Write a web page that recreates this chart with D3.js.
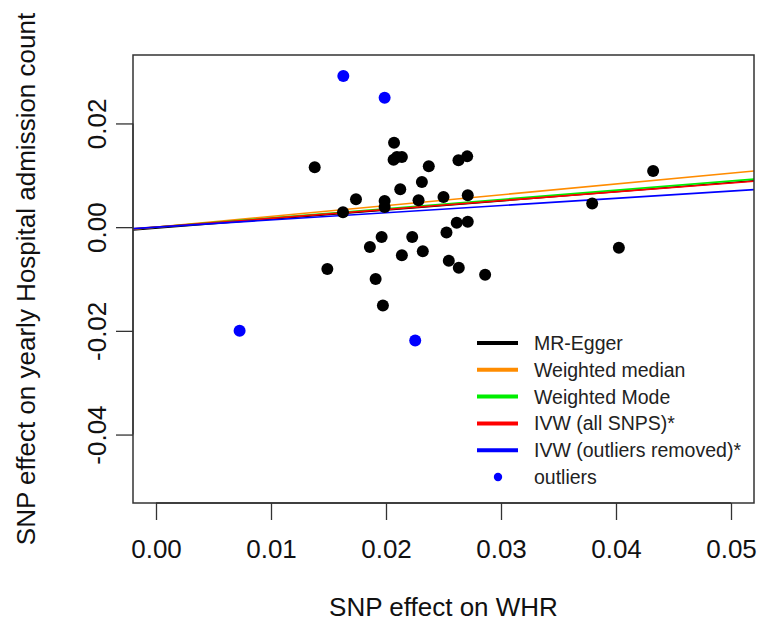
<!DOCTYPE html>
<html>
<head>
<meta charset="utf-8">
<script src="https://cdn.jsdelivr.net/npm/d3@7/dist/d3.min.js"></script>
<style>
  html, body { margin: 0; padding: 0; background: #fff; }
  svg { display: block; font-family: "Liberation Sans", Arial, Helvetica, sans-serif; }
</style>
</head>
<body>
<svg id="chart" width="761" height="629"></svg>
<script>
// ---- data ----
const snpX = [0.02070, 0.02095, 0.02066, 0.02138, 0.01380, 0.02372, 0.02630, 0.02706, 0.02312, 0.02124,
              0.01739, 0.01988, 0.01988, 0.02283, 0.02500, 0.02711, 0.01626, 0.02615, 0.02711, 0.02526,
              0.01962, 0.02228, 0.01860, 0.02320, 0.02138, 0.02546, 0.02633, 0.01490, 0.02862, 0.01910,
              0.01973, 0.04323, 0.03793, 0.04025];
const snpY = [0.01629, 0.01352, 0.01302, 0.01352, 0.01154, 0.01173, 0.01288, 0.01365, 0.00871, 0.00731,
              0.00538, 0.00506, 0.00390, 0.00519, 0.00583, 0.00615, 0.00288, 0.00083, 0.00102, -0.00102,
              -0.00192, -0.00192, -0.00385, -0.00467, -0.00544, -0.00648, -0.00783, -0.00808, -0.00917, -0.01000,
              -0.01513, 0.01083, 0.00456, -0.00398];
const outlierX = [0.01629, 0.01988, 0.00727, 0.02254];
const outlierY = [0.02917, 0.02494, -0.02000, -0.02187];

const methodNames = ["MR-Egger", "Weighted median", "Weighted Mode", "IVW (all SNPS)*", "IVW (outliers removed)*"];
const methodColors = ["#000000", "#FF8C00", "#00EE00", "#FF0000", "#0000FF"];
const methodIntercepts = [-0.0002, 0, 0, 0, 0];
const methodSlopes = [0.176, 0.208, 0.178, 0.170, 0.139];

const xTicks = [0.00, 0.01, 0.02, 0.03, 0.04, 0.05];
const yTicks = [-0.04, -0.02, 0.00, 0.02];
const xTitle = "SNP effect on WHR";
const yTitle = "SNP effect on yearly Hospital admission count";
const outlierLabel = "outliers";

// ---- layout ----
const svg = d3.select("#chart");
const box = { left: 133, right: 754, top: 55, bottom: 503 };
const xLim = [0, 0.05], yLim = [-0.05, 0.03];
const xPad = (xLim[1] - xLim[0]) * 0.04, yPad = (yLim[1] - yLim[0]) * 0.04;
const x = d3.scaleLinear().domain([xLim[0] - xPad, xLim[1] + xPad]).range([box.left, box.right]);
const y = d3.scaleLinear().domain([yLim[0] - yPad, yLim[1] + yPad]).range([box.bottom, box.top]);

const fontBase = 26;
const textCol = "#111";
const fmt = d => (Math.abs(d) < 1e-12 ? 0 : d).toFixed(2);

// clip path for plot region
svg.append("defs").append("clipPath").attr("id", "plotclip")
  .append("rect").attr("x", box.left).attr("y", box.top)
  .attr("width", box.right - box.left).attr("height", box.bottom - box.top);

// axes
const xAxis = d3.axisBottom(x).tickValues(xTicks).tickFormat(fmt).tickSize(17);
const gx = svg.append("g").attr("transform", `translate(0,${box.bottom})`).call(xAxis);
gx.select(".domain").attr("d", `M${x(xTicks[0])},0H${x(xTicks[xTicks.length-1])}`).attr("stroke", "#333").attr("stroke-width", 1.3);
gx.selectAll(".tick line").attr("stroke", "#333").attr("stroke-width", 1.3);
gx.selectAll(".tick text").attr("font-size", fontBase).attr("fill", textCol)
  .attr("font-family", "Liberation Sans, Arial, sans-serif").attr("dy", null).attr("y", 55);

const yAxis = d3.axisLeft(y).tickValues(yTicks).tickFormat(fmt).tickSize(17);
const gy = svg.append("g").attr("transform", `translate(${box.left},0)`).call(yAxis);
gy.select(".domain").attr("d", `M0,${y(yTicks[0])}V${y(yTicks[yTicks.length-1])}`).attr("stroke", "#333").attr("stroke-width", 1.3);
gy.selectAll(".tick line").attr("stroke", "#333").attr("stroke-width", 1.3);
gy.selectAll(".tick text").attr("font-size", fontBase).attr("fill", textCol)
  .attr("font-family", "Liberation Sans, Arial, sans-serif")
  .attr("x", null).attr("dy", null).attr("text-anchor", "middle")
  .attr("transform", "translate(-27,0) rotate(-90)");

// regression lines
const lineG = svg.append("g").attr("clip-path", "url(#plotclip)");
const xd = x.domain();
methodNames.forEach((m, i) => {
  const a = methodIntercepts[i], b = methodSlopes[i];
  lineG.append("line")
    .attr("x1", x(xd[0])).attr("y1", y(a + b * xd[0]))
    .attr("x2", x(xd[1])).attr("y2", y(a + b * xd[1]))
    .attr("stroke", methodColors[i]).attr("stroke-width", 1.6);
});

// points
const pts = snpX.map((v, i) => ({ x: v, y: snpY[i] }));
lineG.selectAll("circle.snp").data(pts).enter().append("circle")
  .attr("class", "snp").attr("cx", d => x(d.x)).attr("cy", d => y(d.y)).attr("r", 6).attr("fill", "#000");
const outs = outlierX.map((v, i) => ({ x: v, y: outlierY[i] }));
lineG.selectAll("circle.out").data(outs).enter().append("circle")
  .attr("class", "out").attr("cx", d => x(d.x)).attr("cy", d => y(d.y)).attr("r", 6).attr("fill", "#0000FF");

// plot box
svg.append("rect").attr("x", box.left).attr("y", box.top)
  .attr("width", box.right - box.left).attr("height", box.bottom - box.top)
  .attr("fill", "none").attr("stroke", "#333").attr("stroke-width", 1.5);

// titles
svg.append("text").attr("x", (box.left + box.right) / 2).attr("y", 616)
  .attr("text-anchor", "middle").attr("font-size", fontBase).attr("fill", textCol).text(xTitle);
svg.append("text").attr("transform", `translate(35,${(box.top + box.bottom) / 2}) rotate(-90)`)
  .attr("text-anchor", "middle").attr("font-size", fontBase).attr("fill", textCol).text(yTitle);

// legend
const leg = svg.append("g");
const legY0 = 343, legDy = 26.8, legFont = 19.5;
methodNames.forEach((m, i) => {
  const yy = legY0 + i * legDy;
  leg.append("line").attr("x1", 477).attr("x2", 518).attr("y1", yy).attr("y2", yy)
    .attr("stroke", methodColors[i]).attr("stroke-width", 4);
  leg.append("text").attr("x", 534).attr("y", yy + 7).attr("font-size", legFont).attr("fill", "#222").text(m);
});
const yyo = legY0 + methodNames.length * legDy;
leg.append("circle").attr("cx", 498).attr("cy", yyo).attr("r", 4.2).attr("fill", "#0000FF");
leg.append("text").attr("x", 534).attr("y", yyo + 7).attr("font-size", legFont).attr("fill", "#222").text(outlierLabel);
</script>
</body>
</html>
